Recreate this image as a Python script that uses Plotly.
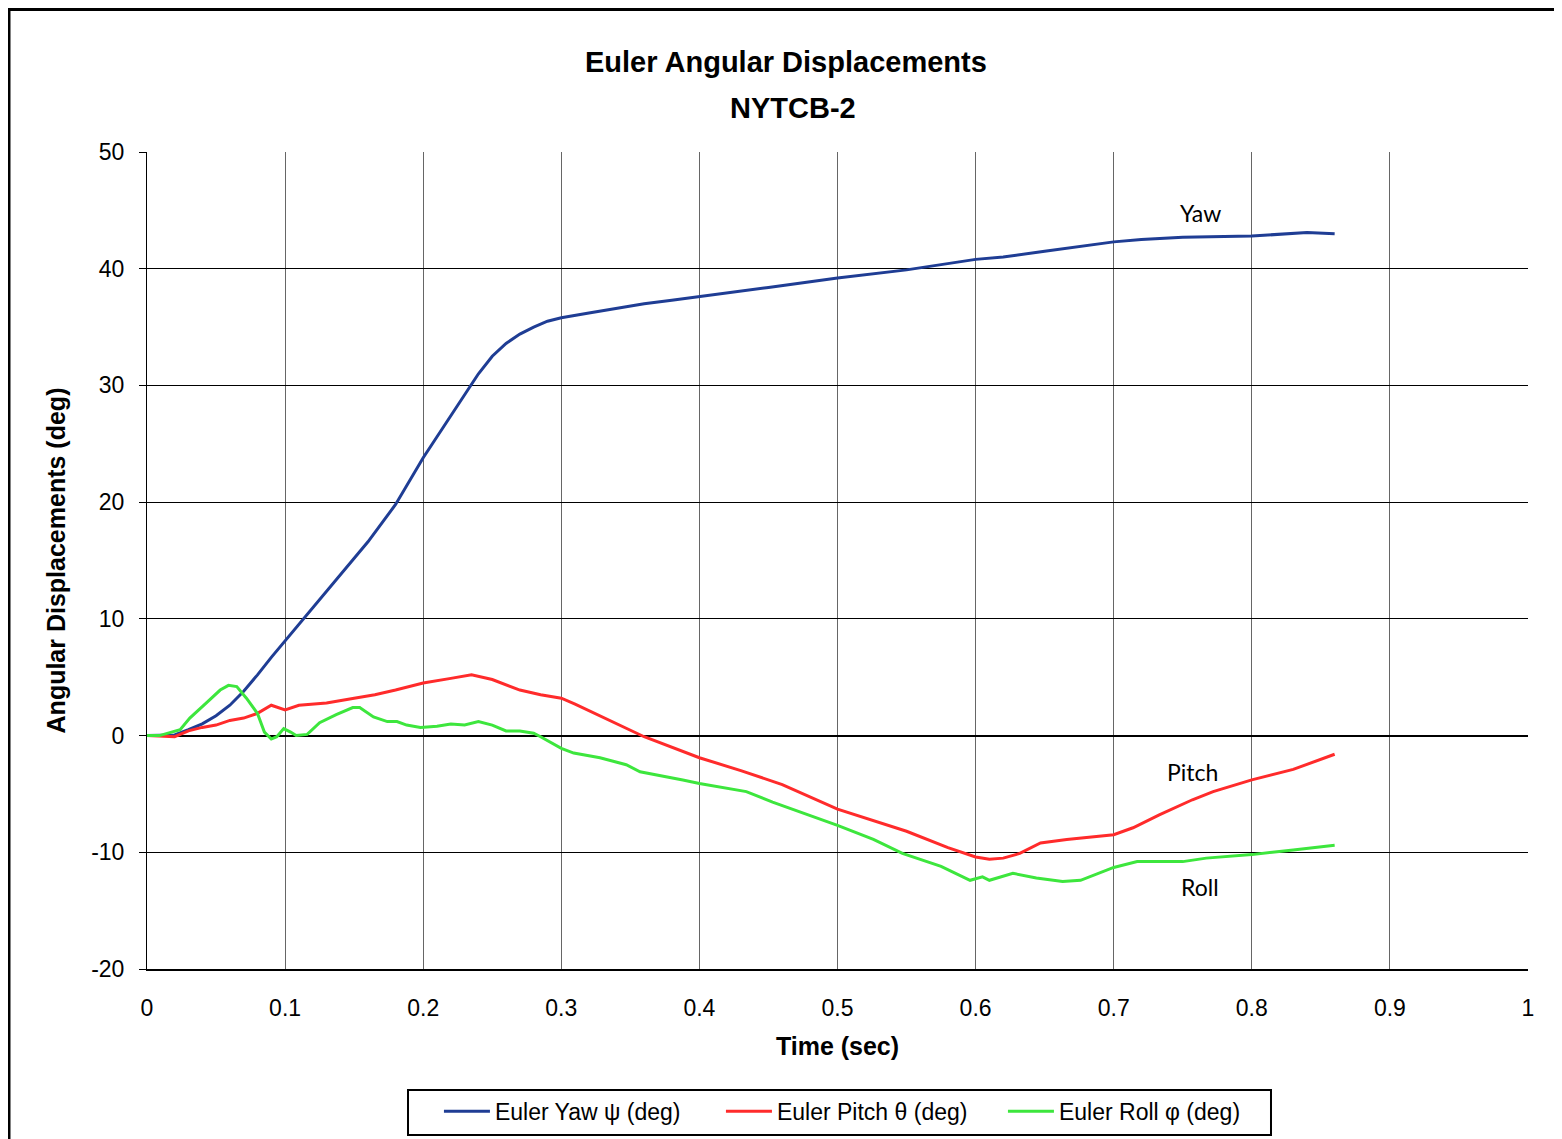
import plotly.graph_objects as go

# time / value readings for each series
yaw_t = [0, 0.02, 0.03, 0.04, 0.05, 0.06, 0.07, 0.08, 0.09, 0.1, 0.12, 0.14, 0.16, 0.18, 0.2,
         0.22, 0.24, 0.25, 0.26, 0.27, 0.28, 0.29, 0.3, 0.32, 0.34, 0.36, 0.38, 0.4, 0.45, 0.5,
         0.55, 0.6, 0.62, 0.65, 0.7, 0.72, 0.75, 0.8, 0.84, 0.86]
yaw = [0, 0.05, 0.5, 1.0, 1.7, 2.6, 3.8, 5.2, 6.7, 8.1, 11.0, 13.7, 16.6, 19.8, 23.8,
       27.4, 31.0, 32.5, 33.6, 34.4, 35.0, 35.5, 35.8, 36.2, 36.6, 37.0, 37.3, 37.6, 38.4, 39.2,
       39.9, 40.8, 41.0, 41.5, 42.3, 42.5, 42.7, 42.8, 43.1, 43.0]

pitch_t = [0, 0.02, 0.03, 0.04, 0.05, 0.06, 0.07, 0.08, 0.09, 0.1, 0.11, 0.13, 0.15, 0.165,
           0.18, 0.2, 0.22, 0.235, 0.25, 0.27, 0.285, 0.3, 0.31, 0.33, 0.36, 0.4, 0.43, 0.46,
           0.5, 0.55, 0.58, 0.6, 0.61, 0.62, 0.632, 0.647, 0.666, 0.7, 0.714, 0.733, 0.757,
           0.772, 0.8, 0.83, 0.86]
pitch = [0, -0.1, 0.4, 0.7, 0.9, 1.3, 1.5, 1.9, 2.6, 2.2, 2.6, 2.8, 3.2, 3.5,
         3.9, 4.5, 4.9, 5.2, 4.8, 3.9, 3.5, 3.2, 2.7, 1.6, -0.1, -1.9, -3.0, -4.2,
         -6.3, -8.2, -9.6, -10.4, -10.6, -10.5, -10.1, -9.2, -8.9, -8.5, -7.9, -6.8, -5.5,
         -4.8, -3.8, -2.9, -1.6]

roll_t = [0, 0.009, 0.024, 0.031, 0.043, 0.053, 0.059, 0.065, 0.072, 0.08, 0.085, 0.09, 0.094,
          0.099, 0.104, 0.108, 0.116, 0.125, 0.137, 0.149, 0.154, 0.164, 0.174, 0.181, 0.188,
          0.198, 0.21, 0.22, 0.23, 0.24, 0.25, 0.26, 0.27, 0.28, 0.285, 0.3, 0.309, 0.328,
          0.347, 0.357, 0.388, 0.4, 0.434, 0.453, 0.5, 0.526, 0.547, 0.575, 0.596, 0.605,
          0.61, 0.627, 0.644, 0.663, 0.676, 0.7, 0.717, 0.75, 0.767, 0.8, 0.83, 0.86]
roll = [0, 0, 0.5, 1.5, 2.8, 3.9, 4.3, 4.2, 3.2, 1.9, 0.3, -0.3, -0.1,
        0.6, 0.3, 0, 0.1, 1.1, 1.8, 2.4, 2.4, 1.6, 1.2, 1.2, 0.9,
        0.7, 0.8, 1.0, 0.9, 1.2, 0.9, 0.4, 0.4, 0.2, -0.1, -1.1, -1.5, -1.9,
        -2.5, -3.1, -3.8, -4.1, -4.8, -5.7, -7.7, -8.9, -10.1, -11.2, -12.4, -12.1,
        -12.4, -11.8, -12.2, -12.5, -12.4, -11.3, -10.8, -10.8, -10.5, -10.2, -9.8, -9.4]

# axis ticks (hyphen minus like the original, not the unicode minus)
x_ticks = [0, 0.1, 0.2, 0.3, 0.4, 0.5, 0.6, 0.7, 0.8, 0.9, 1]
x_labels = ['0', '0.1', '0.2', '0.3', '0.4', '0.5', '0.6', '0.7', '0.8', '0.9', '1']
y_ticks = [-20, -10, 0, 10, 20, 30, 40, 50]
y_labels = ['-20', '-10', '0', '10', '20', '30', '40', '50']

ARIAL = "Arial, Liberation Sans, sans-serif"

fig = go.Figure()
fig.add_trace(go.Scatter(x=yaw_t, y=yaw, mode='lines', name='Euler Yaw ψ (deg)',
                         line=dict(color='#1f3d94', width=3)))
fig.add_trace(go.Scatter(x=pitch_t, y=pitch, mode='lines', name='Euler Pitch θ (deg)',
                         line=dict(color='#ff2b2b', width=3)))
fig.add_trace(go.Scatter(x=roll_t, y=roll, mode='lines', name='Euler Roll φ (deg)',
                         line=dict(color='#3de63d', width=3)))

fig.update_xaxes(range=[0, 1], tickvals=x_ticks, ticktext=x_labels,
                 showgrid=True, gridcolor='#666666', gridwidth=1,
                 showline=True, linecolor='black', linewidth=2, zeroline=False,
                 ticks='', ticklabelstandoff=17,
                 tickfont=dict(family=ARIAL, size=23, color='black'),
                 title=dict(text='<b>Time (sec)</b>', standoff=18,
                            font=dict(family=ARIAL, size=25, color='black')))
fig.update_yaxes(range=[-20, 50], tickvals=y_ticks, ticktext=y_labels,
                 showgrid=True, gridcolor='black', gridwidth=1,
                 showline=True, linecolor='black', linewidth=1,
                 zeroline=True, zerolinecolor='black', zerolinewidth=2,
                 ticks='outside', ticklen=7, tickcolor='black', ticklabelstandoff=10,
                 tickfont=dict(family=ARIAL, size=23, color='black'),
                 title=dict(text='<b>Angular Displacements (deg)</b>', standoff=18,
                            font=dict(family=ARIAL, size=25, color='black')))

fig.update_layout(
    width=1562, height=1139,
    margin=dict(l=139, r=42, t=144, b=178),
    paper_bgcolor='white', plot_bgcolor='white',
    showlegend=True,
    legend=dict(orientation='h', x=0.2114, xanchor='left', y=-0.148, yanchor='top',
                borderwidth=0, bgcolor='rgba(0,0,0,0)', entrywidth=221, itemwidth=46,
                font=dict(family=ARIAL, size=23, color='black')),
    shapes=[
        # outer chart frame
        dict(type='rect', xref='paper', yref='paper', x0=-0.1003, x1=1.2,
             y0=-0.4, y1=1.175, line=dict(color='black', width=4)),
        # legend box
        dict(type='rect', xref='paper', yref='paper', x0=0.189, x1=0.8139,
             y0=-0.2032, y1=-0.1481, line=dict(color='black', width=2)),
    ],
    annotations=[
        dict(text='<b>Euler Angular Displacements</b>', xref='paper', yref='paper',
             x=0.4627, y=1.110, showarrow=False, yanchor='middle',
             font=dict(family=ARIAL, size=29, color='black')),
        dict(text='<b>NYTCB-2</b>', xref='paper', yref='paper',
             x=0.4678, y=1.054, showarrow=False, yanchor='middle',
             font=dict(family=ARIAL, size=29, color='black')),
        dict(text='Yaw', x=0.7625, y=44.8, showarrow=False,
             font=dict(family='Lato, sans-serif', size=23, color='black')),
        dict(text='Pitch', x=0.757, y=-3.1, showarrow=False,
             font=dict(family='Lato, sans-serif', size=23, color='black')),
        dict(text='Roll', x=0.7625, y=-13.0, showarrow=False,
             font=dict(family='Lato, sans-serif', size=23, color='black')),
    ],
)

fig.write_html("out.html")
